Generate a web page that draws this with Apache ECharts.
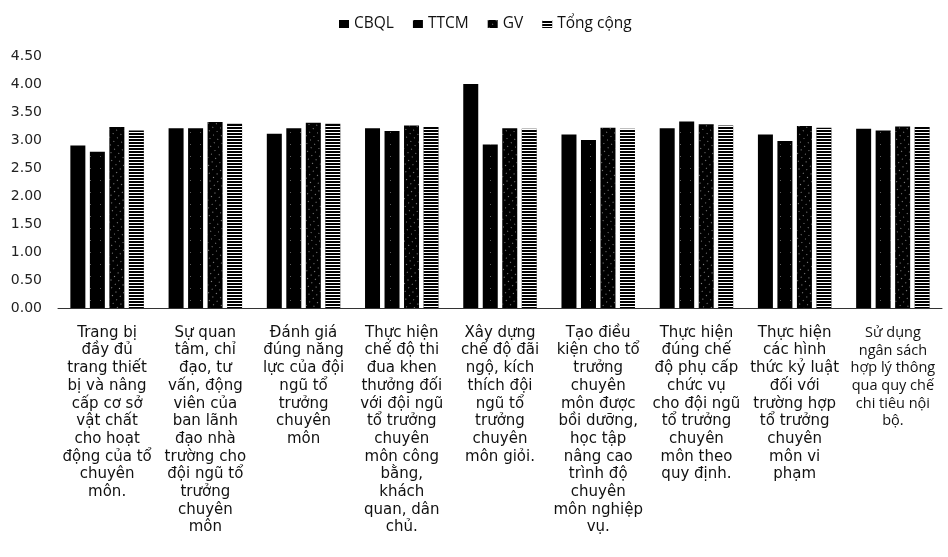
<!DOCTYPE html>
<html>
<head>
<meta charset="utf-8">
<script src="https://cdn.jsdelivr.net/npm/echarts@6/dist/echarts.min.js"></script>
<style>
  html, body { margin: 0; padding: 0; background: #fff; }
  #chart { width: 948px; height: 557px; }
</style>
</head>
<body>
<div id="chart"></div>
<script>
// Criteria (x-axis categories), pre-wrapped into lines
const categories = [
  "Trang bị\nđầy đủ\ntrang thiết\nbị và nâng\ncấp cơ sở\nvật chất\ncho hoạt\nđộng của tổ\nchuyên\nmôn.",
  "Sự quan\ntâm, chỉ\nđạo, tư\nvấn, động\nviên của\nban lãnh\nđạo nhà\ntrường cho\nđội ngũ tổ\ntrưởng\nchuyên\nmôn",
  "Đánh giá\nđúng năng\nlực của đội\nngũ tổ\ntrưởng\nchuyên\nmôn",
  "Thực hiện\nchế độ thi\nđua khen\nthưởng đối\nvới đội ngũ\ntổ trưởng\nchuyên\nmôn công\nbằng,\nkhách\nquan, dân\nchủ.",
  "Xây dựng\nchế độ đãi\nngộ, kích\nthích đội\nngũ tổ\ntrưởng\nchuyên\nmôn giỏi.",
  "Tạo điều\nkiện cho tổ\ntrưởng\nchuyên\nmôn được\nbồi dưỡng,\nhọc tập\nnâng cao\ntrình độ\nchuyên\nmôn nghiệp\nvụ.",
  "Thực hiện\nđúng chế\nđộ phụ cấp\nchức vụ\ncho đội ngũ\ntổ trưởng\nchuyên\nmôn theo\nquy định.",
  "Thực hiện\ncác hình\nthức kỷ luật\nđối với\ntrường hợp\ntổ trưởng\nchuyên\nmôn vi\nphạm",
  "Sử dụng\nngân sách\nhợp lý thông\nqua quy chế\nchi tiêu nội\nbộ."
];

const seriesNames = ["CBQL", "TTCM", "GV", "Tổng cộng"];

// Mean scores per group
const cbql     = [2.90, 3.21, 3.11, 3.21, 4.00, 3.10, 3.21, 3.10, 3.20];
const ttcm     = [2.79, 3.21, 3.21, 3.16, 2.92, 3.00, 3.33, 2.98, 3.17];
const gv       = [3.23, 3.32, 3.31, 3.26, 3.21, 3.22, 3.28, 3.25, 3.24];
const tongCong = [3.17, 3.29, 3.29, 3.23, 3.20, 3.20, 3.26, 3.22, 3.23];

// Y-axis range
const yMin = 0, yMax = 4.5, yStep = 0.5;

// Black fills; the later series carry a light speckle / stripe decal
const fills = [
  { symbol: 'none' },
  { symbol: 'rect', symbolSize: 1, color: 'rgba(255,255,255,0.35)', dashArrayX: [1, 9], dashArrayY: [1, 11] },
  { symbol: 'rect', symbolSize: 1, color: 'rgba(255,255,255,0.55)', dashArrayX: [1, 4], dashArrayY: [1, 5] },
  { symbol: 'rect', symbolSize: 1, color: '#fff', dashArrayX: [1, 0], dashArrayY: [1, 2] }
];

const values = [cbql, ttcm, gv, tongCong];

const chart = echarts.init(document.getElementById('chart'), null, { renderer: 'canvas' });

chart.setOption({
  animation: false,
  backgroundColor: '#fff',
  aria: { enabled: true, label: { enabled: false }, decal: { show: true } },
  legend: {
    top: 11,
    left: 334,
    itemWidth: 10,
    itemHeight: 8,
    itemGap: 19,
    icon: 'rect',
    textStyle: { fontFamily: '"Open Sans", sans-serif', fontSize: 15.5, color: '#111' },
    data: seriesNames
  },
  grid: { left: 58, right: 6, top: 56, bottom: 249 },
  xAxis: {
    type: 'category',
    data: categories,
    axisLine: { show: true, lineStyle: { color: '#333', width: 1 } },
    axisTick: { show: false },
    axisLabel: {
      interval: 0,
      margin: 16,
      fontFamily: '"DejaVu Sans", sans-serif',
      fontSize: 15,
      lineHeight: 17.7,
      color: '#111',
      formatter: function (v, i) {
        return i === categories.length - 1 ? '{c|' + v + '}' : v;
      },
      rich: {
        c: { fontFamily: '"Open Sans", sans-serif', fontSize: 14.5, lineHeight: 17.7, color: '#111' }
      }
    }
  },
  yAxis: {
    type: 'value',
    min: yMin,
    max: yMax,
    interval: yStep,
    axisLine: { show: false },
    axisTick: { show: false },
    splitLine: { show: false },
    axisLabel: {
      margin: 16,
      fontFamily: '"DejaVu Sans", sans-serif',
      fontSize: 14,
      color: '#222',
      formatter: v => v.toFixed(2)
    }
  },
  series: seriesNames.map((name, k) => ({
    name: name,
    type: 'bar',
    data: values[k],
    barWidth: 15,
    barGap: '30%',
    itemStyle: { color: '#000', decal: fills[k] }
  }))
});
</script>
</body>
</html>
